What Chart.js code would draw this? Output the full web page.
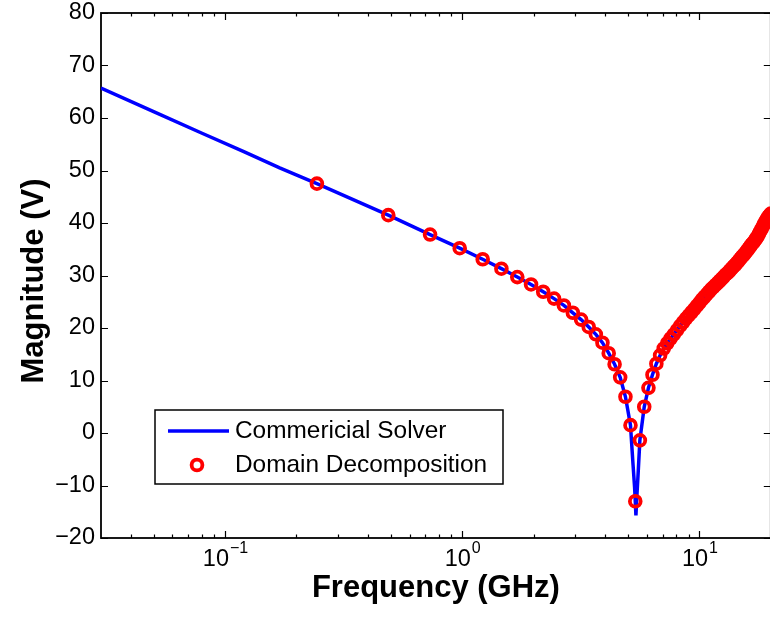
<!DOCTYPE html>
<html>
<head>
<meta charset="utf-8">
<script src="https://cdn.jsdelivr.net/npm/chart.js@4/dist/chart.umd.min.js"></script>
<style>
  html, body { margin: 0; padding: 0; background: #ffffff; overflow: hidden; width: 770px; height: 617px; }
  #wrap { width: 780px; height: 617px; }
</style>
</head>
<body>
<div id="wrap"><canvas id="c" width="780" height="617"></canvas></div>
<script>
// Frequency sweep of the domain-decomposition run (GHz)
const markerFreq = [
  0.244, 0.488, 0.732, 0.976, 1.220, 1.463, 1.707, 1.951, 2.195, 2.439,
  2.683, 2.927, 3.171, 3.415, 3.659, 3.902, 4.146, 4.390, 4.634, 4.878,
  5.122, 5.366, 5.610, 5.854, 6.098, 6.341, 6.585, 6.829, 7.073, 7.317,
  7.561, 7.805, 8.049, 8.293, 8.537, 8.780, 9.024, 9.268, 9.512, 9.756,
  10.000, 10.244, 10.488, 10.732, 10.976, 11.220, 11.463, 11.707, 11.951, 12.195,
  12.439, 12.683, 12.927, 13.171, 13.415, 13.659, 13.902, 14.146, 14.390, 14.634,
  14.878, 15.122, 15.366, 15.610, 15.854, 16.098, 16.341, 16.585, 16.829, 17.073,
  17.317, 17.561, 17.805, 18.049, 18.293, 18.537, 18.780, 19.024, 19.268, 19.512,
  19.756, 20.000
];
// Magnitude from domain decomposition (V, dB scale)
const markerMag = [
  47.5, 41.5, 37.8, 35.2, 33.1, 31.3, 29.7, 28.3, 26.9, 25.6,
  24.3, 22.9, 21.6, 20.2, 18.8, 17.2, 15.2, 13.1, 10.6, 6.9,
  1.5, -13.0, -1.4, 5.0, 8.6, 11.1, 13.2, 14.8, 16.1, 17.1,
  18.0, 18.8, 19.6, 20.4, 21.1, 21.8, 22.4, 23.0, 23.6, 24.2,
  24.8, 25.4, 25.9, 26.4, 26.9, 27.4, 27.8, 28.2, 28.6, 29.0,
  29.4, 29.8, 30.2, 30.5, 30.9, 31.3, 31.7, 32.0, 32.4, 32.8,
  33.2, 33.6, 33.9, 34.3, 34.7, 35.1, 35.5, 35.9, 36.2, 36.6,
  37.0, 37.4, 37.9, 38.4, 38.9, 39.4, 39.9, 40.4, 40.8, 41.2,
  41.5, 41.8
];
// Commercial solver reference curve
const lineFreq = [
  0.03, 0.05, 0.08, 0.12, 0.17, 0.244, 0.488, 0.732, 0.976, 1.220,
  1.463, 1.707, 1.951, 2.195, 2.439, 2.683, 2.927, 3.171, 3.415, 3.659,
  3.902, 4.146, 4.390, 4.634, 4.878, 5.122, 5.25, 5.33, 5.366, 5.40,
  5.45, 5.52, 5.610, 5.854, 6.098, 6.341, 6.585, 6.829, 7.317, 8.293,
  9.756, 11.707, 13.659, 15.610, 17.561, 19.024, 20.0
];
const lineMag = [
  65.7, 61.2, 57.1, 53.6, 50.5, 47.5, 41.5, 37.8, 35.2, 33.1,
  31.3, 29.7, 28.3, 26.9, 25.6, 24.3, 22.9, 21.6, 20.2, 18.8,
  17.2, 15.2, 13.1, 10.6, 6.9, 1.5, -6.0, -10.3, -13.0, -15.7,
  -12.0, -7.5, -1.4, 5.0, 8.6, 11.1, 13.2, 14.8, 17.1, 20.4,
  24.2, 28.2, 31.3, 34.3, 37.4, 40.4, 41.8
];
const yTicks = [-20, -10, 0, 10, 20, 30, 40, 50, 60, 70, 80];
const xMajorTicks = [0.1, 1, 10];
const xTickExponents = ['\u22121', '0', '1'];
const xMinorTicks = [0.04, 0.05, 0.06, 0.07, 0.08, 0.09,
  0.2, 0.3, 0.4, 0.5, 0.6, 0.7, 0.8, 0.9,
  2, 3, 4, 5, 6, 7, 8, 9];
const seriesNames = ['Commericial Solver', 'Domain Decomposition'];
const xTitle = 'Frequency (GHz)';
const yTitle = 'Magnitude (V)';

const FONT = '"Liberation Sans", Arial, Helvetica, sans-serif';

const boxAxes = {
  id: 'boxAxes',
  beforeDatasetsDraw(chart) {
    const { ctx, chartArea: a, scales: { x, y } } = chart;
    ctx.save();
    ctx.strokeStyle = '#000000';
    ctx.lineWidth = 1.2;
    ctx.beginPath();
    yTicks.forEach(v => {
      const p = Math.round(y.getPixelForValue(v)) + 0.5;
      ctx.moveTo(a.left, p); ctx.lineTo(a.left + 7, p);
      ctx.moveTo(a.right, p); ctx.lineTo(a.right - 7, p);
    });
    xMajorTicks.forEach(v => {
      const p = Math.round(x.getPixelForValue(v)) + 0.5;
      ctx.moveTo(p, a.bottom); ctx.lineTo(p, a.bottom - 7);
      ctx.moveTo(p, a.top); ctx.lineTo(p, a.top + 7);
    });
    xMinorTicks.forEach(v => {
      const p = Math.round(x.getPixelForValue(v)) + 0.5;
      ctx.moveTo(p, a.bottom); ctx.lineTo(p, a.bottom - 3.5);
      ctx.moveTo(p, a.top); ctx.lineTo(p, a.top + 3.5);
    });
    ctx.stroke();
    ctx.lineWidth = 1.8;
    ctx.strokeRect(a.left, a.top, a.right - a.left, a.bottom - a.top);
    ctx.restore();
  },
  afterDraw(chart) {
    const { ctx, chartArea: a, scales: { x, y } } = chart;
    ctx.save();
    ctx.fillStyle = '#000000';

    // y tick labels
    ctx.font = '23.5px ' + FONT;
    ctx.textAlign = 'right';
    ctx.textBaseline = 'middle';
    yTicks.forEach(v => {
      const txt = v < 0 ? '\u2212' + Math.abs(v) : String(v);
      ctx.fillText(txt, a.left - 6, y.getPixelForValue(v));
    });

    // x tick labels as powers of ten
    ctx.textAlign = 'left';
    ctx.textBaseline = 'alphabetic';
    xMajorTicks.forEach((v, i) => {
      const px = x.getPixelForValue(v);
      ctx.font = '23.5px ' + FONT;
      const wb = ctx.measureText('10').width;
      ctx.font = '16px ' + FONT;
      const we = ctx.measureText(xTickExponents[i]).width;
      const start = px - (wb + we) / 2;
      ctx.font = '23.5px ' + FONT;
      ctx.fillText('10', start, 566);
      ctx.font = '16px ' + FONT;
      ctx.fillText(xTickExponents[i], start + wb + 1, 553);
    });

    // axis titles
    ctx.font = 'bold 31px ' + FONT;
    ctx.textAlign = 'center';
    ctx.fillText(xTitle, (a.left + a.right) / 2, 597);
    ctx.save();
    ctx.translate(43, 281);
    ctx.rotate(-Math.PI / 2);
    ctx.fillText(yTitle, 0, 0);
    ctx.restore();

    // legend box
    const lx = 155, ly = 410, lw = 348, lh = 74;
    ctx.fillStyle = '#ffffff';
    ctx.fillRect(lx, ly, lw, lh);
    ctx.strokeStyle = '#000000';
    ctx.lineWidth = 1.5;
    ctx.strokeRect(lx, ly, lw, lh);

    const ds = chart.data.datasets;
    ctx.strokeStyle = ds[0].borderColor;
    ctx.lineWidth = ds[0].borderWidth;
    ctx.beginPath();
    ctx.moveTo(168, 431); ctx.lineTo(229, 431);
    ctx.stroke();

    ctx.strokeStyle = ds[1].pointBorderColor;
    ctx.lineWidth = ds[1].pointBorderWidth;
    ctx.beginPath();
    ctx.arc(197, 465, ds[1].pointRadius, 0, Math.PI * 2);
    ctx.stroke();

    ctx.fillStyle = '#000000';
    ctx.font = '24.4px ' + FONT;
    ctx.textAlign = 'left';
    ctx.textBaseline = 'middle';
    ctx.fillText(ds[0].label, 235, 431);
    ctx.fillText(ds[1].label, 235, 465);
    ctx.restore();
  }
};

new Chart(document.getElementById('c'), {
  type: 'scatter',
  data: {
    datasets: [
      {
        label: seriesNames[0],
        data: lineFreq.map((f, i) => ({ x: f, y: lineMag[i] })),
        showLine: true,
        borderColor: '#0000ff',
        backgroundColor: '#0000ff',
        borderWidth: 3.5,
        pointRadius: 0,
        tension: 0,
        fill: false,
        order: 2
      },
      {
        label: seriesNames[1],
        data: markerFreq.map((f, i) => ({ x: f, y: markerMag[i] })),
        showLine: false,
        pointStyle: 'circle',
        pointRadius: 5.4,
        pointBorderWidth: 3.8,
        pointBorderColor: '#ff0000',
        pointBackgroundColor: 'rgba(0,0,0,0)',
        order: 1
      }
    ]
  },
  options: {
    responsive: false,
    animation: false,
    devicePixelRatio: 1,
    events: [],
    layout: { padding: { left: 101, right: 7, top: 13, bottom: 79 } },
    scales: {
      x: { type: 'logarithmic', min: 0.03, max: 20, display: false },
      y: { type: 'linear', min: -20, max: 80, display: false }
    },
    plugins: {
      legend: { display: false },
      tooltip: { enabled: false }
    }
  },
  plugins: [boxAxes]
});
</script>
</body>
</html>
